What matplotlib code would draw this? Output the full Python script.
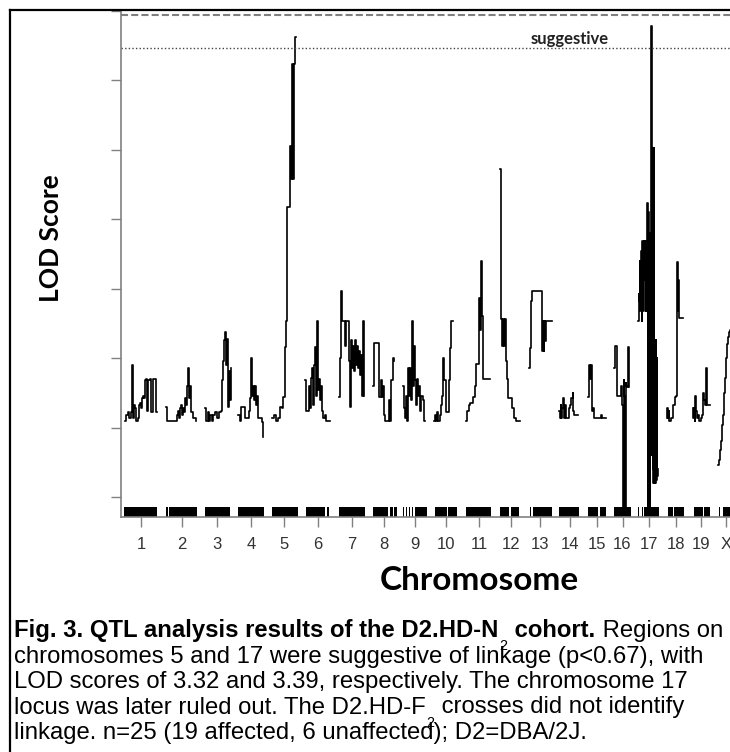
import matplotlib
matplotlib.use('Agg')
import matplotlib.pyplot as plt
from matplotlib.lines import Line2D
import numpy as np

# chromosome layout (cM), gap between chromosomes as in R/qtl
chrom_names = ['1', '2', '3', '4', '5', '6', '7', '8', '9', '10',
               '11', '12', '13', '14', '15', '16', '17', '18', '19', 'X']
chrom_len = [103, 94, 76, 80, 76, 80, 80, 68, 70, 74,
             80, 64, 68, 64, 56, 50, 62, 56, 52, 50]
gap = 22.5

# LOD profiles, position (cM within chromosome) and LOD
c1_cm = [3, 6, 12, 15, 21, 24, 27, 30, 33, 36, 42, 45, 48, 51, 54, 57, 60, 63, 66, 69, 72, 78, 81, 87, 93, 96, 99]
c1_lod = [0.55, 0.59, 0.61, 0.57, 0.61, 0.95, 0.57, 0.66, 0.64, 0.55, 0.57, 0.66, 0.68, 0.64, 0.71, 0.73, 0.71,
          0.84, 0.85, 0.62, 0.84, 0.85, 0.61, 0.85, 0.85, 0.61, 0.61]
c2_cm = [0, 3, 12, 24, 33, 36, 39, 42, 45, 48, 51, 54, 57, 60, 63, 66, 69, 72, 75, 81, 90]
c2_lod = [0.65, 0.55, 0.55, 0.55, 0.59, 0.62, 0.57, 0.64, 0.66, 0.59, 0.64, 0.61, 0.71, 0.66, 0.80, 0.93, 0.71,
          0.80, 0.61, 0.57, 0.55]
c3_cm = [0, 3, 9, 12, 15, 21, 24, 30, 36, 42, 48, 51, 54, 57, 60, 63, 66, 69, 72, 75, 78]
c3_lod = [0.64, 0.55, 0.61, 0.55, 0.59, 0.55, 0.59, 0.61, 0.57, 0.61, 0.62, 0.84, 0.98, 1.13, 1.19, 0.95, 1.14,
          0.65, 0.91, 0.70, 0.93]
c4_cm = [0, 6, 9, 18, 21, 30, 33, 36, 39, 42, 45, 48, 51, 54, 57, 60, 66, 72, 75]
c4_lod = [0.59, 0.55, 0.65, 0.65, 0.57, 0.57, 0.62, 0.71, 1.00, 0.73, 0.80, 0.70, 0.80, 0.66, 0.73, 0.57, 0.57,
          0.54, 0.43]
c5_cm = [0, 6, 12, 18, 24, 30, 33, 39, 42, 45, 54, 57, 60, 63, 66, 69, 72]
c5_lod = [0.57, 0.59, 0.55, 0.57, 0.65, 0.64, 0.72, 1.08, 1.27, 2.09, 2.53, 2.29, 3.12, 2.29, 3.12, 3.31, 3.31]
c6_cm = [0, 3, 9, 12, 15, 18, 21, 24, 27, 30, 33, 36, 39, 42, 45, 48, 51, 54, 60, 63, 75]
c6_lod = [0.84, 0.62, 0.62, 0.80, 0.64, 0.86, 0.93, 0.66, 0.95, 1.08, 0.73, 1.27, 0.77, 0.85, 0.70, 0.80, 0.62,
          0.57, 0.59, 0.55, 0.55]
c7_cm = [0, 3, 6, 9, 15, 18, 21, 27, 30, 33, 36, 39, 42, 45, 48, 51, 54, 57, 60, 63, 66, 69, 72, 75]
c7_lod = [0.72, 1.00, 1.48, 1.27, 1.27, 1.09, 1.27, 1.27, 0.98, 0.65, 1.13, 0.93, 1.09, 0.91, 1.13, 0.95, 1.09,
          0.93, 1.05, 0.88, 1.02, 0.73, 1.27, 0.73]
c8_cm = [0, 3, 15, 18, 24, 27, 30, 33, 36, 45, 48, 51, 54, 60, 63]
c8_lod = [0.80, 1.11, 1.11, 0.72, 0.84, 0.72, 0.80, 0.59, 0.55, 0.55, 0.70, 0.55, 0.84, 1.00, 0.98]
c9_cm = [0, 3, 6, 9, 12, 15, 18, 21, 24, 27, 30, 33, 36, 39, 42, 45, 48, 51, 54, 60, 63, 66]
c9_lod = [0.80, 0.64, 0.57, 0.73, 0.55, 0.93, 0.73, 0.93, 0.70, 1.27, 0.80, 1.09, 0.84, 0.66, 0.85, 0.73, 0.80,
          0.62, 0.73, 0.70, 0.55, 0.55]
c10_cm = [0, 3, 6, 9, 12, 18, 21, 24, 27, 30, 36, 42, 45, 48, 51, 57]
c10_lod = [0.55, 0.59, 0.55, 0.61, 0.55, 0.59, 0.66, 0.73, 1.00, 0.84, 0.61, 0.61, 0.84, 1.07, 1.27, 1.27]
c11_cm = [0, 3, 9, 12, 18, 21, 27, 30, 36, 39, 42, 45, 48, 51, 72]
c11_lod = [0.55, 0.62, 0.66, 0.68, 0.68, 0.72, 0.80, 0.96, 0.96, 1.43, 1.20, 1.70, 1.30, 0.85, 0.85]
c12_cm = [0, 3, 6, 9, 12, 15, 18, 21, 24, 30, 36, 42, 48, 60]
c12_lod = [2.36, 1.28, 1.09, 1.28, 1.09, 1.28, 0.98, 0.85, 0.71, 0.71, 0.64, 0.57, 0.55, 0.55]
c13_cm = [0, 2, 3, 5, 8, 39, 40, 42, 44, 46, 48, 50, 69]
c13_lod = [0.93, 1.05, 1.07, 1.41, 1.48, 1.48, 1.05, 1.27, 1.05, 1.27, 1.12, 1.27, 1.27]
c14_cm = [0, 2, 4, 6, 9, 12, 14, 17, 20, 26, 30, 33, 36, 40, 42, 45, 51, 57]
c14_lod = [0.62, 0.57, 0.66, 0.57, 0.64, 0.71, 0.57, 0.66, 0.57, 0.57, 0.64, 0.66, 0.71, 0.75, 0.62, 0.59,
           0.59, 0.59]
c15_cm = [0, 2, 4, 6, 8, 12, 15, 18, 30, 39, 42, 54]
c15_lod = [0.72, 0.93, 0.95, 0.85, 0.95, 0.62, 0.64, 0.57, 0.57, 0.59, 0.57, 0.57]
c16_cm = [0, 2, 8, 9, 18, 21, 24, 26, 28, 30, 32, 34, 36, 39, 42, 43]
c16_lod = [0.93, 1.09, 1.09, 0.73, 0.73, 0.80, 0.66, -0.2, 0.84, 0.73, -0.2, 0.82, 0.80, 0.79, 1.08, 0.79]
c17_cm = [0, 1, 2, 4, 5, 6, 7, 8, 10, 11, 12, 14, 16, 18, 20, 22, 24, 27, 28, 30,
          31, 33, 34, 36, 38, 39, 40, 42, 43, 44, 45, 47, 48, 50, 51, 53, 54, 56, 57, 60]
c17_lod = [1.27, 1.46, 1.41, 1.46, 1.70, 1.34, 1.70, 1.77, 1.77, 1.27, 1.84, 1.34, 1.84, 1.56, 1.84, 1.34,
           1.84, 2.12, -0.2, 2.05, -0.2, 1.90, -0.2, 1.80, 0.3, 3.39, 0.6, 2.51, 0.2, 2.51, 0.1, 2.51, 0.1,
           1.13, 0.1, 1.13, 0.12, 1.0, 0.15, 0.2]
c18_cm = [0, 2, 4, 6, 8, 12, 18, 20, 24, 27, 30, 33, 35, 37, 40, 48]
c18_lod = [0.57, 0.64, 0.57, 0.62, 0.55, 0.57, 0.64, 0.66, 0.72, 0.73, 1.69, 1.34, 1.56, 1.29, 1.29, 1.29]
c19_cm = [0, 2, 4, 6, 8, 10, 12, 15, 18, 24, 27, 30, 33, 36, 39, 42, 45, 51]
c19_lod = [0.64, 0.57, 0.64, 0.55, 0.73, 0.62, 0.57, 0.59, 0.55, 0.57, 0.59, 0.75, 0.70, 0.66, 0.93, 0.66,
           0.66, 0.66]
cX_cm = [0, 3, 6, 9, 12, 15, 18, 21, 24, 27, 30, 33, 36, 45, 60]
cX_lod = [0.23, 0.27, 0.34, 0.40, 0.52, 0.59, 0.75, 0.86, 1.00, 1.10, 1.15, 1.19, 1.20, 1.22, 1.22]

profiles = [(c1_cm, c1_lod), (c2_cm, c2_lod), (c3_cm, c3_lod), (c4_cm, c4_lod), (c5_cm, c5_lod),
            (c6_cm, c6_lod), (c7_cm, c7_lod), (c8_cm, c8_lod), (c9_cm, c9_lod), (c10_cm, c10_lod),
            (c11_cm, c11_lod), (c12_cm, c12_lod), (c13_cm, c13_lod), (c14_cm, c14_lod), (c15_cm, c15_lod),
            (c16_cm, c16_lod), (c17_cm, c17_lod), (c18_cm, c18_lod), (c19_cm, c19_lod), (cX_cm, cX_lod)]

# marker rug (cM start, cM end within chromosome)
rug = [[(1, 99)], [(0, 3), (4, 7), (9, 93)], [(0, 76)], [(0, 78)], [(0, 78)],
       [(3, 60), (66, 72)], [(0, 78)], [(0, 45), (51, 60), (63, 72)],
       [(0, 3), (10, 13), (18, 21), (26, 29), (36, 72)], [(3, 39), (42, 69)],
       [(0, 75)], [(0, 27), (33, 57)], [(3, 6), (12, 69)], [(0, 60)], [(0, 30), (36, 54)],
       [(0, 51)], [(0, 3), (12, 15), (18, 63)], [(3, 18), (21, 51)], [(3, 30), (33, 51)],
       [(3, 6), (15, 90)]]

thr_sig = 3.47
thr_sugg = 3.23

caption = [
    'chromosomes 5 and 17 were suggestive of linkage (p<0.67), with',
    'LOD scores of 3.32 and 3.39, respectively. The chromosome 17',
    'linkage. n=25 (19 affected, 6 unaffected); D2=DBA/2J.',
]

W, H = 730, 752
fig = plt.figure(figsize=(W / 100, H / 100), dpi=100)
ax = fig.add_axes([121 / W, 1 - 517 / H, (800 - 121) / W, (517 - 10) / H])

offsets = np.concatenate([[0], np.cumsum(np.array(chrom_len[:-1]) + gap)])

for off, (cm, lod) in zip(offsets, profiles):
    ax.plot(off + np.array(cm), lod, drawstyle='steps-post', color='black', lw=1.2)

ylo = -0.144
for off, segs in zip(offsets, rug):
    ax.broken_barh([(off + a, b - a) for a, b in segs], (ylo, 0.072), color='black', lw=0)

ax.axhline(thr_sig, color='#808080', lw=1.5, ls=(0, (3.4, 1.5)))
ax.axhline(thr_sugg, color='#444444', lw=1.0, ls=(0, (1, 1.6)))
ax.text(1338, 3.265, 'suggestive', ha='center', va='baseline', fontsize=12,
        family='Lato', weight='bold', color='#222222')

ax.set_xlim(-9, 2028)
ax.set_ylim(ylo, 3.507)
ax.set_yticks(np.arange(0, 3.51, 0.5))
ax.set_xticks(offsets + np.array(chrom_len) / 2)
ax.set_xticklabels(chrom_names, family='Liberation Sans', fontsize=12, color='#333333')
ax.tick_params(axis='both', direction='out', length=7.5, width=1, color='#808080', pad=7)
ax.tick_params(axis='y', labelleft=False)
for s in ['top', 'right']:
    ax.spines[s].set_visible(False)
for s in ['left', 'bottom']:
    ax.spines[s].set_color('#808080')
    ax.spines[s].set_linewidth(1.2)

fig.text(51 / W, 1 - 238 / H, 'LOD Score', rotation=90, ha='center', va='center',
         family='Lato', weight='bold', fontsize=19)
fig.text(479 / W, 1 - 580 / H, 'Chromosome', ha='center', va='center',
         family='Lato', weight='bold', fontsize=24)

# frame around the figure panel
fig.add_artist(Line2D([10 / W, 10 / W], [-0.01, 1 - 10 / H], color='black', lw=1.6))
fig.add_artist(Line2D([10 / W, 1.01], [1 - 10 / H, 1 - 10 / H], color='black', lw=1.6))

# caption, size fitted to the width of the second line
cap_font = 'Liberation Sans'
renderer = fig.canvas.get_renderer()
probe = fig.text(0, 0, caption[0], fontsize=16, family=cap_font)
cap_size = 16 * 691 / probe.get_window_extent(renderer).width
probe.remove()

x0 = 14 / W
base = [637, 662.5, 688, 713.5, 739]
kw = dict(family=cap_font, fontsize=cap_size, va='baseline', ha='left')
sub_kw = dict(family=cap_font, fontsize=cap_size * 0.6, va='bottom', ha='left')


def after(txt, prev, yref=None, dy=0, **k):
    # place a piece of text right after the previous one
    xy_coords = prev if yref is None else (prev, yref)
    a = plt.Annotation(txt, xy=(1, 0), xycoords=xy_coords, xytext=(0.5, dy),
                       textcoords='offset points', annotation_clip=False, **k)
    fig.add_artist(a)
    return a


l1 = fig.text(x0, 1 - base[0] / H, 'Fig. 3. QTL analysis results of the D2.HD-N', weight='bold', **kw)
s1 = after('2', l1, dy=-8, **sub_kw)
b1 = after(' cohort.', s1, yref=l1, family=cap_font, fontsize=cap_size, weight='bold', va='bottom', ha='left')
after(' Regions on', b1, family=cap_font, fontsize=cap_size, va='bottom', ha='left')

fig.text(x0, 1 - base[1] / H, caption[0], **kw)
fig.text(x0, 1 - base[2] / H, caption[1], **kw)
l4 = fig.text(x0, 1 - base[3] / H, 'locus was later ruled out. The D2.HD-F', **kw)
s4 = after('2', l4, dy=-8, **sub_kw)
after(' crosses did not identify', s4, yref=l4, family=cap_font, fontsize=cap_size, va='bottom', ha='left')
fig.text(x0, 1 - base[4] / H, caption[2], **kw)

fig.savefig('out.png', dpi=100)
